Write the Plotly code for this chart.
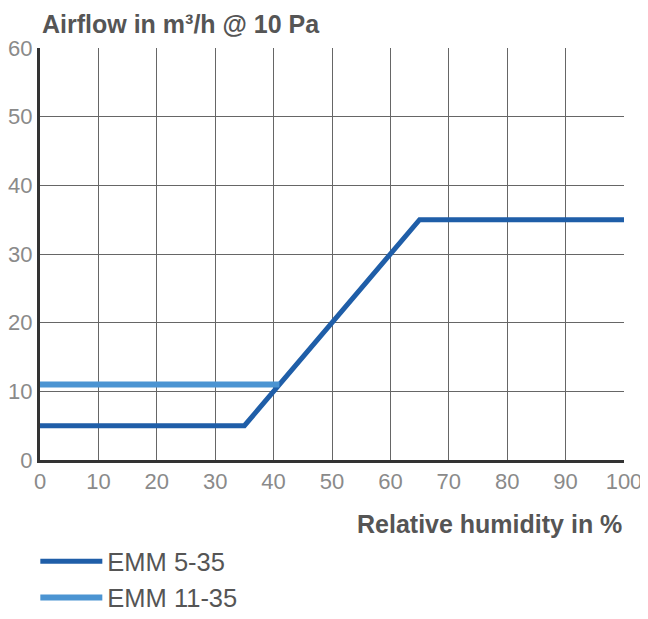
import plotly.graph_objects as go

# Relative humidity (%) vs airflow (m3/h @ 10 Pa)
emm_5_35_x = [0, 35, 65, 100]
emm_5_35_y = [5, 5, 35, 35]
emm_11_35_x = [0, 41]
emm_11_35_y = [11, 11]

x_ticks = list(range(0, 101, 10))
y_ticks = list(range(0, 61, 10))

DARK = "#1f5ea8"
LIGHT = "#4b94d2"
FONT = "Liberation Sans Narrow, Liberation Sans, Arial, sans-serif"

fig = go.Figure()
fig.add_trace(go.Scatter(
    x=emm_5_35_x, y=emm_5_35_y, name="EMM 5-35", mode="lines",
    line=dict(color=DARK, width=5),
))
fig.add_trace(go.Scatter(
    x=emm_11_35_x, y=emm_11_35_y, name="EMM 11-35", mode="lines",
    line=dict(color=LIGHT, width=6),
))

# page body adds an 8px offset, so the figure is sized to fit inside it
fig.update_layout(
    width=640, height=603,
    margin=dict(l=32, r=24, t=40, b=151, autoexpand=False),
    plot_bgcolor="white", paper_bgcolor="white",
    font=dict(family=FONT, size=17, color="#555"),
    showlegend=True,
    legend=dict(
        x=-0.008, y=-0.19, xanchor="left", yanchor="top",
        itemwidth=62, tracegroupgap=0, borderwidth=0,
        font=dict(size=25.5, color="#555"),
        bgcolor="rgba(0,0,0,0)",
    ),
    annotations=[
        dict(text="<b>Airflow in m³/h @ 10 Pa</b>", xref="paper", yref="paper",
             x=0, y=1, xanchor="left", yanchor="bottom", yshift=8,
             showarrow=False, font=dict(size=25, color="#555")),
        dict(text="<b>Relative humidity in %</b>", xref="paper", yref="paper",
             x=1, y=0, xanchor="right", yanchor="top", yshift=-48,
             showarrow=False, font=dict(size=25, color="#555")),
    ],
)

fig.update_xaxes(
    range=[0, 100], tickvals=x_ticks, showgrid=True, gridcolor="#666", gridwidth=1.2,
    zeroline=False, showline=True, linecolor="#333", linewidth=3,
    ticks="", automargin=False, tickfont=dict(size=22, color="#8a8a8a"),
)
fig.update_yaxes(
    range=[0, 60], tickvals=y_ticks, showgrid=True, gridcolor="#666", gridwidth=1.2,
    zeroline=False, showline=True, linecolor="#333", linewidth=3,
    ticks="", automargin=False, tickfont=dict(size=22, color="#8a8a8a"),
)

fig.write_html("out.html")
